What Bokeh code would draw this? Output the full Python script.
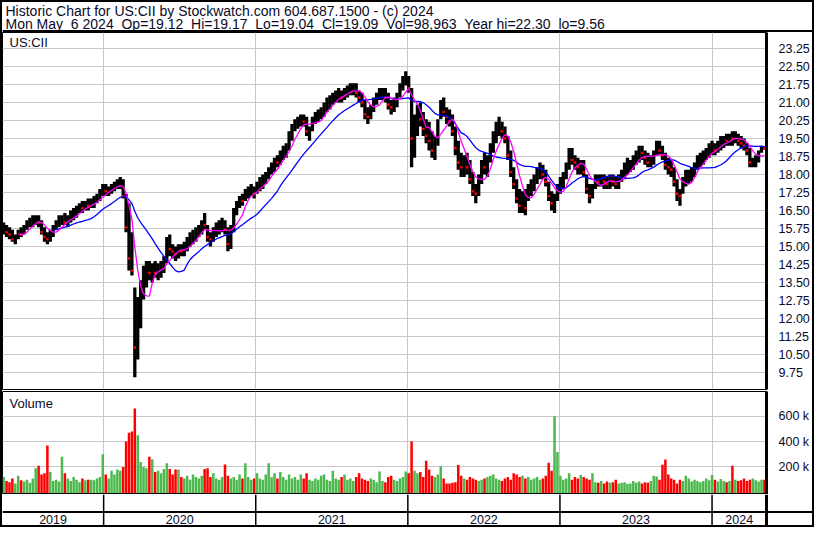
import numpy as np
import pandas as pd
from bokeh.plotting import figure
from bokeh.layouts import column
from bokeh.models import (Range1d, FixedTicker, LinearAxis, Grid, Label, Span,
                          ColumnDataSource, NumeralTickFormatter)
from bokeh.embed import file_html
from bokeh.resources import INLINE
from bokeh.core.properties import value

# ---------------- data (weekly) ----------------
FIRST_WEEK = "2019-05-06"

high = [
    16.0, 15.9, 15.8, 15.7, 15.5, 15.7, 15.8, 15.9, 16.1, 16.2,
    16.3, 16.3, 16.3, 16.1, 15.8, 15.6, 15.7, 15.9, 16.1, 16.3,
    16.3, 16.4, 16.3, 16.5, 16.6, 16.7, 16.8, 16.9, 16.9, 17.0,
    17.0, 17.1, 17.2, 17.4, 17.6, 17.6, 17.5, 17.6, 17.7, 17.8,
    17.9, 17.8, 17.2, 16.8, 15.6, 13.3, 12.9, 13.6, 14.2, 14.4,
    14.4, 14.3, 14.4, 14.3, 14.4, 14.6, 15.4, 15.5, 15.1, 15.0,
    15.1, 15.1, 15.2, 15.4, 15.6, 15.7, 15.8, 15.9, 16.1, 16.4,
    15.9, 15.6, 15.8, 16.0, 16.1, 16.2, 16.1, 15.8, 15.9, 16.6,
    16.9, 17.1, 17.2, 17.4, 17.5, 17.6, 17.5, 17.7, 17.9, 18.0,
    18.1, 18.3, 18.5, 18.7, 18.8, 19.0, 19.2, 19.3, 19.8, 20.1,
    20.3, 20.4, 20.5, 20.5, 20.4, 20.0, 20.4, 20.6, 20.7, 20.8,
    21.0, 21.2, 21.3, 21.4, 21.5, 21.6, 21.5, 21.6, 21.7, 21.8,
    21.8, 21.8, 21.5, 21.4, 21.1, 20.8, 20.9, 21.2, 21.4, 21.6,
    21.6, 21.6, 21.4, 21.1, 21.2, 21.4, 21.8, 22.1, 22.3, 22.1,
    21.6, 20.5, 20.9, 21.0, 20.6, 20.3, 20.2, 19.8, 19.6, 20.3,
    21.1, 21.2, 20.8, 20.7, 20.5, 20.0, 19.4, 18.9, 18.8, 18.9,
    18.6, 18.1, 17.6, 18.0, 18.6, 18.9, 18.8, 19.3, 19.8, 20.2,
    20.4, 20.2, 20.0, 19.6, 19.0, 18.3, 17.8, 17.4, 17.3, 17.4,
    17.6, 17.8, 18.0, 18.3, 18.5, 18.4, 18.2, 17.7, 17.3, 17.2,
    17.6, 17.9, 18.1, 18.5, 19.1, 19.1, 18.8, 18.7, 18.6, 18.6,
    18.0, 17.6, 17.6, 18.0, 18.0, 18.0, 18.0, 17.9, 18.0, 18.0,
    17.9, 18.0, 18.2, 18.5, 18.7, 18.6, 18.8, 19.0, 19.2, 19.2,
    19.0, 18.9, 18.8, 19.0, 19.4, 19.4, 19.2, 18.9, 18.7, 18.6,
    18.3, 17.8, 17.4, 17.9, 18.2, 18.2, 18.3, 18.5, 18.8, 18.9,
    19.0, 19.1, 19.3, 19.4, 19.3, 19.4, 19.6, 19.6, 19.7, 19.7,
    19.8, 19.8, 19.7, 19.6, 19.5, 19.3, 19.1, 18.7, 18.8, 19.0, 19.2, 19.17,
]

low = [
    15.5, 15.4, 15.3, 15.2, 15.1, 15.3, 15.4, 15.5, 15.7, 15.8,
    15.8, 15.9, 15.8, 15.5, 15.2, 15.1, 15.2, 15.4, 15.7, 15.8,
    15.9, 15.9, 15.8, 16.0, 16.1, 16.2, 16.4, 16.4, 16.5, 16.5,
    16.6, 16.6, 16.8, 16.9, 17.1, 17.1, 17.1, 17.2, 17.3, 17.4,
    17.4, 17.0, 15.6, 14.0, 13.8, 9.56, 10.3, 11.6, 12.8, 13.3,
    13.6, 13.5, 13.7, 13.6, 13.7, 13.9, 14.3, 14.6, 14.5, 14.4,
    14.5, 14.6, 14.6, 14.8, 15.0, 15.1, 15.2, 15.4, 15.5, 15.7,
    15.2, 15.0, 15.2, 15.4, 15.5, 15.6, 15.5, 14.8, 14.9, 15.6,
    16.3, 16.6, 16.7, 16.9, 17.0, 17.1, 17.0, 17.2, 17.3, 17.4,
    17.6, 17.8, 18.0, 18.1, 18.3, 18.4, 18.6, 18.7, 19.0, 19.4,
    19.8, 19.9, 20.0, 20.0, 19.6, 19.4, 19.8, 20.1, 20.2, 20.3,
    20.4, 20.6, 20.7, 20.9, 21.0, 21.0, 21.0, 21.1, 21.2, 21.3,
    21.3, 21.2, 21.0, 20.8, 20.3, 20.1, 20.3, 20.6, 20.9, 21.1,
    21.1, 21.0, 20.7, 20.5, 20.6, 20.8, 21.2, 21.5, 21.7, 21.4,
    18.3, 18.7, 19.6, 20.0, 19.6, 19.3, 19.0, 18.7, 18.6, 19.2,
    20.3, 20.4, 20.1, 20.0, 19.6, 18.8, 18.2, 17.9, 17.9, 18.0,
    17.6, 17.1, 16.8, 17.1, 17.6, 18.0, 17.9, 18.5, 18.9, 19.3,
    19.6, 19.5, 19.3, 18.6, 17.9, 17.4, 16.8, 16.4, 16.4, 16.3,
    16.9, 17.1, 17.3, 17.6, 17.8, 17.8, 17.5, 16.9, 16.5, 16.4,
    16.9, 17.2, 17.4, 17.8, 18.2, 18.4, 18.2, 18.0, 18.0, 17.9,
    17.2, 16.8, 17.0, 17.4, 17.5, 17.5, 17.4, 17.4, 17.4, 17.5,
    17.4, 17.4, 17.7, 17.8, 18.0, 18.1, 18.2, 18.4, 18.5, 18.6,
    18.4, 18.3, 18.3, 18.4, 18.8, 18.8, 18.6, 18.2, 18.0, 17.9,
    17.5, 16.9, 16.7, 17.2, 17.5, 17.6, 17.7, 17.9, 18.2, 18.3,
    18.4, 18.6, 18.7, 18.8, 18.8, 18.9, 19.0, 19.1, 19.2, 19.2,
    19.2, 19.3, 19.2, 19.1, 19.0, 18.8, 18.3, 18.3, 18.3, 18.5, 18.9, 19.04,
]

close = [
    15.8, 15.6, 15.5, 15.3, 15.4, 15.6, 15.5, 15.8, 16.0, 16.1,
    16.1, 16.2, 16.0, 15.6, 15.4, 15.3, 15.5, 15.8, 16.0, 16.1,
    16.1, 16.0, 16.2, 16.3, 16.4, 16.6, 16.7, 16.6, 16.8, 16.7,
    16.8, 17.0, 17.1, 17.3, 17.4, 17.3, 17.4, 17.5, 17.6, 17.7,
    17.7, 17.1, 15.8, 14.5, 14.0, 10.8, 11.9, 13.2, 13.8, 14.0,
    13.9, 14.1, 13.9, 14.0, 14.2, 14.4, 15.1, 14.9, 14.8, 14.7,
    14.9, 14.8, 15.0, 15.2, 15.4, 15.5, 15.6, 15.8, 16.0, 15.9,
    15.4, 15.3, 15.6, 15.8, 15.9, 15.9, 15.7, 15.1, 15.7, 16.4,
    16.8, 17.0, 16.9, 17.2, 17.3, 17.4, 17.2, 17.6, 17.7, 17.8,
    17.9, 18.2, 18.3, 18.6, 18.5, 18.9, 19.0, 19.2, 19.6, 19.9,
    20.2, 20.2, 20.3, 20.2, 19.8, 19.9, 20.3, 20.4, 20.5, 20.6,
    20.8, 21.0, 21.1, 21.2, 21.3, 21.4, 21.2, 21.5, 21.5, 21.6,
    21.7, 21.4, 21.2, 21.0, 20.5, 20.4, 20.8, 21.0, 21.3, 21.4,
    21.5, 21.2, 20.9, 20.8, 21.0, 21.3, 21.6, 21.9, 22.0, 21.6,
    19.5, 20.0, 20.5, 20.3, 19.9, 19.6, 19.4, 19.0, 19.3, 20.0,
    20.8, 20.6, 20.4, 20.2, 19.8, 19.1, 18.5, 18.3, 18.5, 18.3,
    17.8, 17.3, 17.2, 17.8, 18.4, 18.3, 18.6, 19.1, 19.6, 19.9,
    20.0, 19.8, 19.5, 18.8, 18.1, 17.6, 17.0, 16.7, 17.0, 16.6,
    17.3, 17.6, 17.8, 18.0, 18.2, 18.0, 17.7, 17.1, 16.8, 16.9,
    17.4, 17.7, 17.9, 18.3, 18.7, 18.6, 18.5, 18.3, 18.4, 18.1,
    17.4, 17.1, 17.5, 17.8, 17.7, 17.8, 17.7, 17.6, 17.8, 17.7,
    17.6, 17.9, 18.0, 18.3, 18.4, 18.5, 18.6, 18.8, 19.0, 18.9,
    18.7, 18.5, 18.6, 18.9, 19.2, 19.0, 18.8, 18.4, 18.3, 18.2,
    17.7, 17.2, 17.1, 17.7, 17.9, 18.0, 18.1, 18.4, 18.6, 18.7,
    18.8, 18.9, 19.1, 19.2, 19.0, 19.3, 19.4, 19.5, 19.4, 19.6,
    19.5, 19.6, 19.4, 19.3, 19.2, 19.0, 18.5, 18.5, 18.6, 18.9, 19.1, 19.09,
]

volume_k = [
    120, 90, 80, 110, 70, 130, 95, 85, 100, 75,
    110, 190, 210, 140, 150, 370, 160, 90, 100, 85,
    280, 150, 110, 90, 120, 100, 80, 110, 95, 100,
    100, 95, 110, 120, 300, 140, 110, 170, 140, 180,
    170, 200, 400, 470, 480, 660, 450, 240, 200, 190,
    280, 260, 160, 170, 150, 185, 230, 185, 140, 180,
    180, 120, 110, 130, 100, 140, 120, 110, 130, 185,
    190, 120, 150, 110, 100, 120, 220, 130, 110, 120,
    100, 140, 110, 230, 120, 100, 110, 150, 110, 100,
    140, 230, 120, 150, 110, 160, 120, 100, 140, 110,
    120, 100, 140, 110, 150, 100, 90, 110, 100, 130,
    140, 100, 90, 170, 110, 100, 120, 140, 100, 110,
    90, 120, 150, 110, 100, 90, 110, 100, 80, 165,
    90, 80, 120, 130, 100, 90, 110, 120, 165, 150,
    400, 170, 150, 160, 120, 250, 180, 130, 120, 140,
    205, 110, 70, 70, 75, 80, 215, 130, 110, 100,
    120, 110, 100, 90, 100, 110, 120, 130, 140, 110,
    100, 90, 110, 120, 100, 150, 140, 120, 130, 110,
    120, 100, 110, 120, 100, 110, 130, 233, 170, 600,
    318, 130, 100, 110, 150, 100, 120, 110, 136, 120,
    110, 100, 150, 80, 75, 90, 70, 85, 75, 80,
    100, 70, 75, 80, 65, 70, 90, 75, 85, 70,
    80, 75, 90, 130, 125, 100, 218, 258, 140, 110,
    100, 70, 100, 90, 130, 110, 85, 100, 90, 80,
    90, 110, 95, 136, 100, 85, 105, 90, 80, 90,
    210, 100, 90, 95, 110, 90, 100, 110, 95, 85, 100, 99,
]

price_ticks = [9.75, 10.50, 11.25, 12.00, 12.75, 13.50, 14.25, 15.00, 15.75,
               16.50, 17.25, 18.00, 18.75, 19.50, 20.25, 21.00, 21.75, 22.50, 23.25]
volume_ticks = [200000, 400000, 600000]
volume_tick_labels = ["200 k", "400 k", "600 k"]
years = [2019, 2020, 2021, 2022, 2023, 2024]

title_line1 = "Historic Chart for US:CII by Stockwatch.com 604.687.1500 - (c) 2024"
title_line2 = ("Mon May  6 2024  Op=19.12  Hi=19.17  Lo=19.04  Cl=19.09  "
               "Vol=98,963  Year hi=22.30  lo=9.56")
symbol = "US:CII"

# ---------------- derived ----------------
dates = pd.date_range(FIRST_WEEK, periods=len(close), freq="7D")


def decimal_year(ts):
    y0 = pd.Timestamp(ts.year, 1, 1)
    y1 = pd.Timestamp(ts.year + 1, 1, 1)
    return ts.year + (ts - y0) / (y1 - y0)


t = np.array([decimal_year(d) for d in dates])
cl = pd.Series(close, dtype=float)
ma_fast = cl.rolling(6).mean()
ma_slow = cl.rolling(18).mean()
chg = cl.diff().fillna(0.0)
vol_color = ["#ff0000" if c < 0 else "#4db84d" for c in chg]
down = chg < 0

src = ColumnDataSource(dict(t=t, high=high, low=low, close=close,
                            vol=np.array(volume_k) * 1000.0, vcol=vol_color,
                            ma_fast=ma_fast, ma_slow=ma_slow))
src_down = ColumnDataSource(dict(t=t[down.values], close=cl[down].values))

# keep runs of spaces visible in SVG text
title_line2_shown = title_line2.replace("  ", " \u00a0")

# ---------------- layout constants ----------------
FW = 764
RW = 46
W = FW + RW
HDR_H = 30
PR_H = 357
GAP = 2
VOL_H = 103
STRIP_H = 31
X_START, X_END = 2019.335, 2024.358
VOL_MIN, VOL_MAX = -17000, 795000
FONT = "Liberation Sans"
TXT = "#0a0a28"
GRID = "#c8c8c8"
year_bounds = [y for y in years if X_START < y < X_END]

xr = Range1d(X_START, X_END)

# ---------------- header ----------------
hdr = figure(width=W, height=HDR_H, x_range=(0, 1), y_range=(0, HDR_H),
             output_backend="svg", toolbar_location=None,
             x_axis_type=None, y_axis_type=None, min_border=0)
hdr.frame_align = False
hdr.outline_line_color = None
hdr.add_layout(Label(x=3, y=HDR_H - 0.5, x_units="screen", y_units="screen", text=title_line1,
                     text_font=FONT, text_font_size="14px", text_color=TXT,
                     text_baseline="top"))
hdr.add_layout(Label(x=3, y=HDR_H - 13.3, x_units="screen", y_units="screen",
                     text=title_line2_shown,
                     text_font=FONT, text_font_size="14px", text_color=TXT,
                     text_baseline="top"))
hdr.add_layout(Span(location=1.2, dimension="width", line_color="black", line_width=2.5))

# ---------------- price panel ----------------
pf = figure(width=W, height=PR_H + GAP, x_range=xr, y_range=Range1d(9.05, 23.91),
            output_backend="svg", toolbar_location=None,
            x_axis_type=None, y_axis_type=None,
            min_border=0, min_border_bottom=GAP, min_border_right=RW)
pf.outline_line_color = "black"
pf.outline_line_width = 1
pf.add_layout(Grid(dimension=0, ticker=FixedTicker(ticks=year_bounds), grid_line_color=GRID))
pf.add_layout(Grid(dimension=1, ticker=FixedTicker(ticks=price_ticks), grid_line_color=GRID))
pax = LinearAxis(ticker=FixedTicker(ticks=price_ticks),
                 formatter=NumeralTickFormatter(format="0.00"),
                 axis_line_width=3, axis_line_color="black",
                 major_tick_line_color=None, minor_tick_line_color=None,
                 major_label_standoff=6, major_label_text_font=FONT,
                 major_label_text_font_size="12.5px", major_label_text_color=TXT)
pf.add_layout(pax, "right")
pf.segment(x0="t", y0="low", x1="t", y1="high", source=src, line_color="black", line_width=3.3)
pf.scatter(x="t", y="close", source=src_down, marker="square", size=2.4,
           fill_color="#ff0000", line_color=None)
pf.line(x="t", y="ma_slow", source=src, line_color="#0000ff", line_width=1.3)
pf.line(x="t", y="ma_fast", source=src, line_color="#ff00ff", line_width=1.3)
pf.add_layout(Label(x=7, y=PR_H - 2, x_units="screen", y_units="screen", text=symbol,
                    text_font=FONT, text_font_size="13px", text_color=TXT,
                    text_baseline="top"))

# ---------------- volume panel ----------------
vf = figure(width=W, height=VOL_H, x_range=xr, y_range=Range1d(VOL_MIN, VOL_MAX),
            output_backend="svg", toolbar_location=None,
            x_axis_type=None, y_axis_type=None,
            min_border=0, min_border_right=RW)
vf.outline_line_color = "black"
vf.outline_line_width = 1
vf.add_layout(Grid(dimension=0, ticker=FixedTicker(ticks=year_bounds), grid_line_color=GRID))
vf.add_layout(Grid(dimension=1, ticker=FixedTicker(ticks=volume_ticks), grid_line_color=GRID))
vax = LinearAxis(ticker=FixedTicker(ticks=volume_ticks),
                 major_label_overrides=dict(zip(volume_ticks, volume_tick_labels)),
                 axis_line_width=3, axis_line_color="black",
                 major_tick_line_color=None, minor_tick_line_color=None,
                 major_label_standoff=6, major_label_text_font=FONT,
                 major_label_text_font_size="12.5px", major_label_text_color=TXT)
vf.add_layout(vax, "right")
vf.vbar(x="t", top="vol", bottom=VOL_MIN, width=0.0165, source=src,
        fill_color="vcol", line_color=None)
vf.add_layout(Label(x=7, y=VOL_H - 4, x_units="screen", y_units="screen", text="Volume",
                    text_font=FONT, text_font_size="13px", text_color=TXT,
                    text_baseline="top"))
vf.add_layout(Span(location=VOL_MIN, dimension="width", line_color="black", line_width=3))

# ---------------- year strip ----------------
x_full_end = X_START + (X_END - X_START) * W / FW
sf = figure(width=W, height=STRIP_H, x_range=Range1d(X_START, x_full_end),
            y_range=Range1d(0, STRIP_H), output_backend="svg", toolbar_location=None,
            x_axis_type=None, y_axis_type=None, min_border=0)
sf.frame_align = False
sf.outline_line_color = None
sf.segment(x0=year_bounds, y0=[0] * len(year_bounds), x1=year_bounds,
           y1=[STRIP_H] * len(year_bounds), line_color="black", line_width=1.5)
sf.add_layout(Span(location=X_END, dimension="height", line_color="black", line_width=3))
sf.add_layout(Span(location=13.5, dimension="width", line_color="black", line_width=2))
centers = [(max(y, X_START) + min(y + 1, X_END)) / 2 for y in years]
sf.text(x=centers, y=[6.5] * len(years), text=[str(y) for y in years],
        text_align="center", text_baseline="middle", text_font=value(FONT),
        text_font_size="12.5px", text_color=TXT)

layout = column(hdr, pf, vf, sf, spacing=0, styles={"border": "2px solid black"})

open("out.html", "w").write(file_html(layout, INLINE))
